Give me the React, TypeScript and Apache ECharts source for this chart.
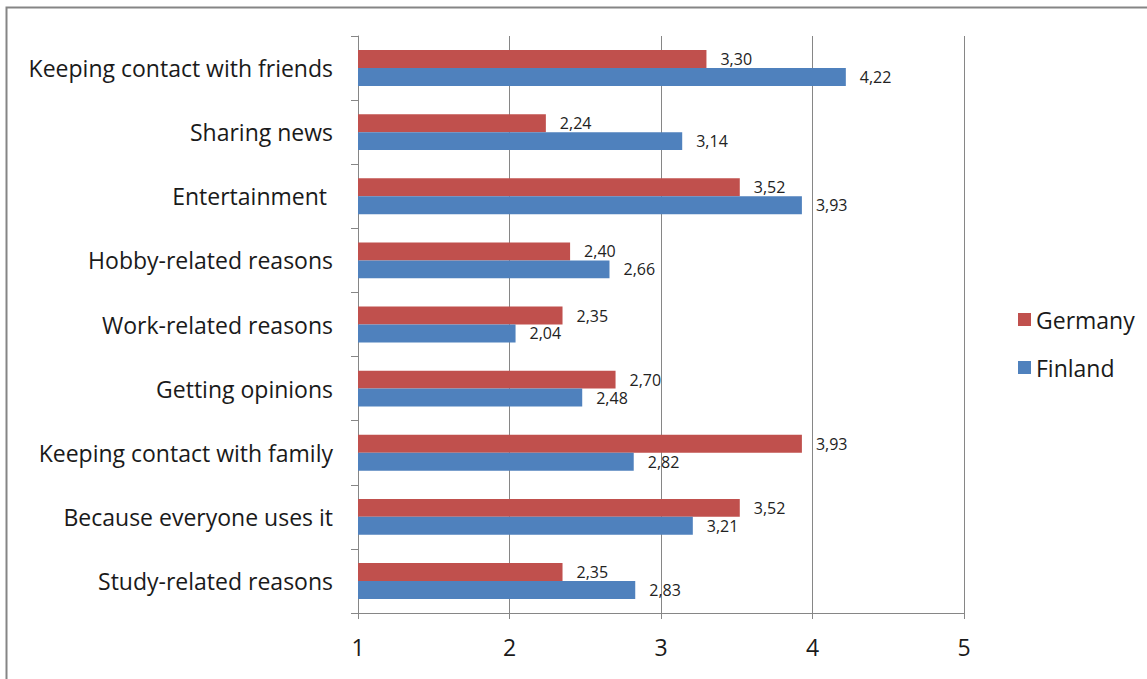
import React, { useEffect, useRef } from "react";
import * as echarts from "echarts";

const categories = [
  "Keeping contact with friends",
  "Sharing news",
  "Entertainment ",
  "Hobby-related reasons",
  "Work-related reasons",
  "Getting opinions",
  "Keeping contact with family",
  "Because everyone uses it",
  "Study-related reasons",
];
const germany = [3.3, 2.24, 3.52, 2.4, 2.35, 2.7, 3.93, 3.52, 2.35];
const finland = [4.22, 3.14, 3.93, 2.66, 2.04, 2.48, 2.82, 3.21, 2.83];
const xTicks = [1, 2, 3, 4, 5];

const FONT = "Open Sans";
const fmt = (v: number) => v.toFixed(2).replace(".", ",");

export default function App() {
  const ref = useRef<HTMLDivElement>(null);
  useEffect(() => {
    if (!ref.current) return;
    const chart = echarts.init(ref.current, undefined, { renderer: "svg" });
    const labelOpt = {
      show: true,
      position: "right" as const,
      distance: 14,
      fontFamily: FONT,
      fontSize: 16,
      color: "#222",
      formatter: (p: any) => fmt(p.value),
    };
    chart.setOption({
      animation: false,
      backgroundColor: "#fff",
      textStyle: { fontFamily: FONT },
      graphic: [
        {
          type: "rect",
          shape: { x: 6.5, y: 7.5, width: 1200, height: 700 },
          style: { fill: "none", stroke: "#858585", lineWidth: 2 },
          silent: true,
        },
      ],
      legend: {
        orient: "vertical",
        left: 1013,
        top: 303,
        itemWidth: 13,
        itemHeight: 13,
        itemGap: 25,
        icon: "rect",
        textStyle: { fontFamily: FONT, fontSize: 23, color: "#1a1a1a" },
        data: ["Germany", "Finland"],
      },
      grid: { left: 358, right: 183, top: 36, bottom: 66, containLabel: false },
      xAxis: {
        type: "value",
        min: xTicks[0],
        max: xTicks[xTicks.length - 1],
        interval: 1,
        axisLine: { show: true, lineStyle: { color: "#868686", width: 1 } },
        axisTick: { show: true, length: 6, lineStyle: { color: "#868686" } },
        axisLabel: {
          margin: 22,
          fontFamily: FONT,
          fontSize: 23,
          color: "#1a1a1a",
          formatter: (v: number) => String(v),
        },
        splitLine: { show: true, lineStyle: { color: "#868686", width: 1 } },
      },
      yAxis: {
        type: "category",
        data: categories,
        inverse: true,
        axisLine: { show: true, lineStyle: { color: "#868686", width: 1 } },
        axisTick: { show: true, length: 7, lineStyle: { color: "#868686" } },
        axisLabel: {
          margin: 25,
          fontFamily: FONT,
          fontSize: 23,
          color: "#1a1a1a",
        },
        splitLine: { show: false },
      },
      series: [
        {
          name: "Germany",
          type: "bar",
          data: germany,
          barGap: "0%",
          barCategoryGap: "44%",
          itemStyle: { color: "#C0504D" },
          label: labelOpt,
        },
        {
          name: "Finland",
          type: "bar",
          data: finland,
          barGap: "0%",
          barCategoryGap: "44%",
          itemStyle: { color: "#4F81BD" },
          label: labelOpt,
        },
      ],
    });
    return () => chart.dispose();
  }, []);
  return (
    <div
      ref={ref}
      style={{ position: "fixed", left: 0, top: 0, width: 1147, height: 679 }}
    />
  );
}
